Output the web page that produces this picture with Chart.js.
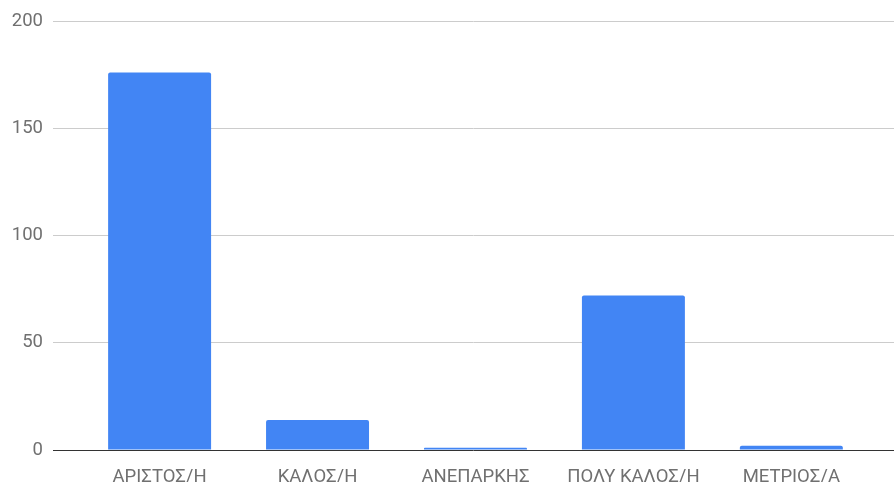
<!DOCTYPE html>
<html><head><meta charset="utf-8">
<script src="https://cdn.jsdelivr.net/npm/chart.js@4/dist/chart.umd.min.js"></script>
<style>html,body{margin:0;padding:0;background:#fff}#wrap{width:894px;height:482px}</style>
</head><body><div id="wrap"><canvas id="c" width="894" height="482"></canvas></div>
<script>
const categories = ["ΑΡΙΣΤΟΣ/Η", "ΚΑΛΟΣ/Η", "ΑΝΕΠΑΡΚΗΣ", "ΠΟΛΥ ΚΑΛΟΣ/Η", "ΜΕΤΡΙΟΣ/Α"];
const values = [176, 14, 1, 72, 2];
const yTicks = [0, 50, 100, 150, 200];

const points = values.map((v, i) => ({x: i, y: v}));

new Chart(document.getElementById('c'), {
  type: 'bar',
  data: { datasets: [{ data: points, backgroundColor: '#4285f4', borderRadius: 2, borderSkipped: 'bottom',
    categoryPercentage: 1, barPercentage: 0.652 }] },
  options: {
    responsive: false, animation: false, devicePixelRatio: 1,
    layout: { padding: { top: 21, right: 0, bottom: 0, left: 0 } },
    plugins: { legend: { display: false }, tooltip: { enabled: false } },
    scales: {
      x: {
        type: 'linear', min: -0.675, max: 4.65, offset: false,
        afterBuildTicks: s => { s.ticks = categories.map((_, i) => ({ value: i })); },
        afterFit: s => { s.height = 32; },
        grid: { display: false }, border: { display: false },
        ticks: { padding: 8, color: '#707070', font: { family: 'Roboto', size: 18.5 },
          callback: v => categories[v] ?? '', maxRotation: 0, autoSkip: false }
      },
      y: {
        min: 0, max: 200,
        afterBuildTicks: s => { s.ticks = yTicks.map(v => ({ value: v })); },
        afterFit: s => { s.width = 53; },
        border: { display: false },
        grid: { drawTicks: false, color: c => c.tick && c.tick.value === 0 ? '#333' : '#cccccc', lineWidth: 1 },
        ticks: { padding: 10, color: '#707070', font: { family: 'Roboto', size: 18.5 } }
      }
    }
  }
});
</script></body></html>
